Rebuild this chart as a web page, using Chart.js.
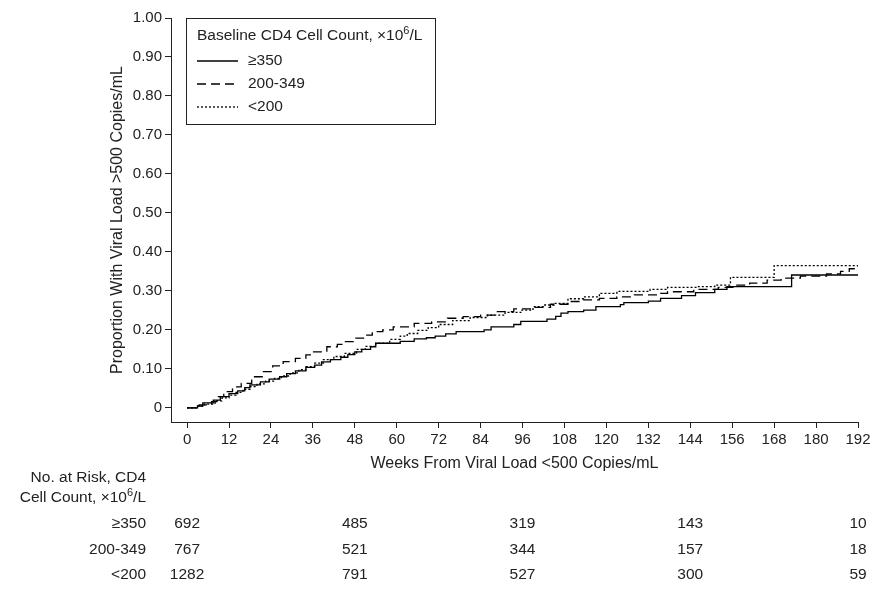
<!DOCTYPE html>
<html>
<head>
<meta charset="utf-8">
<script src="https://cdn.jsdelivr.net/npm/chart.js@4.4.0/dist/chart.umd.min.js"></script>
<style>
  html, body { margin: 0; padding: 0; background: #fff; }
</style>
</head>
<body>
<canvas id="kmChart" width="880" height="592"></canvas>
<script>
// axis ticks
const xTicks = [0, 12, 24, 36, 48, 60, 72, 84, 96, 108, 120, 132, 144, 156, 168, 180, 192];
const yTicks = [0, 0.1, 0.2, 0.3, 0.4, 0.5, 0.6, 0.7, 0.8, 0.9, 1.0];

// groups (baseline CD4 count)
const groupLabels = ['≥350', '200-349', '<200'];

// KM steps: week where the step starts, proportion from then on
const weeksHigh = [0, 3, 4.5, 7.5, 9.5, 12, 14.5, 16.5, 18, 21, 23.5, 26.5, 28.5, 31, 34, 36.5, 38.5, 41, 44, 46, 48, 50, 52.5, 54, 61, 65, 68.5, 71, 74, 77, 85, 87, 93.5, 95.5, 103, 105.5, 107, 109, 113.5, 117, 124, 125, 132, 135.5, 141.5, 145.5, 151, 154.5, 173, 192];
const propHigh  = [0, 0.005, 0.013, 0.02, 0.029, 0.037, 0.044, 0.052, 0.059, 0.067, 0.074, 0.08, 0.088, 0.095, 0.104, 0.11, 0.118, 0.124, 0.13, 0.137, 0.144, 0.15, 0.157, 0.166, 0.171, 0.177, 0.18, 0.184, 0.19, 0.196, 0.2, 0.208, 0.214, 0.222, 0.228, 0.235, 0.243, 0.247, 0.251, 0.26, 0.265, 0.27, 0.274, 0.281, 0.288, 0.296, 0.304, 0.311, 0.341, 0.341];

const weeksMid = [0, 3.5, 7, 8.5, 10.5, 13, 15.5, 18.5, 21.5, 24.5, 27.5, 31, 34, 36, 40, 43, 45, 47.5, 50.5, 53, 56, 59, 65, 70, 74.5, 79, 84, 88.5, 93.5, 99, 104, 109, 113, 118, 123, 128, 135.5, 137.5, 145, 152, 156.5, 161, 166, 170, 175.5, 183, 187, 189.5, 192];
const propMid  = [0, 0.008, 0.016, 0.029, 0.042, 0.054, 0.063, 0.08, 0.093, 0.108, 0.119, 0.127, 0.136, 0.144, 0.157, 0.163, 0.17, 0.179, 0.187, 0.196, 0.2, 0.208, 0.217, 0.221, 0.23, 0.234, 0.238, 0.247, 0.254, 0.258, 0.266, 0.273, 0.277, 0.281, 0.285, 0.29, 0.294, 0.298, 0.304, 0.309, 0.315, 0.32, 0.328, 0.333, 0.338, 0.344, 0.35, 0.357, 0.363];

const weeksLow = [0, 3, 5, 8, 10, 12, 14, 16, 18, 20, 22.5, 25, 27, 29.5, 32, 34, 36.5, 39, 42, 45, 48.5, 51, 54, 58, 61, 63, 66, 69, 72, 76, 81, 86, 91, 95.5, 99, 102, 105, 109, 113.5, 118, 123, 132.5, 137.5, 146, 151, 155.5, 168, 192];
const propLow  = [0, 0.005, 0.01, 0.018, 0.026, 0.033, 0.04, 0.048, 0.055, 0.062, 0.069, 0.076, 0.082, 0.09, 0.098, 0.106, 0.115, 0.124, 0.132, 0.14, 0.15, 0.158, 0.166, 0.176, 0.184, 0.191, 0.199, 0.206, 0.214, 0.224, 0.232, 0.238, 0.245, 0.251, 0.26, 0.264, 0.268, 0.28, 0.285, 0.294, 0.299, 0.304, 0.309, 0.311, 0.315, 0.335, 0.365, 0.365];

// numbers at risk
const riskWeeks = [0, 48, 96, 144, 192];
const riskHigh = [692, 485, 319, 143, 10];
const riskMid = [767, 521, 344, 157, 18];
const riskLow = [1282, 791, 527, 300, 59];

const ink = '#222';
const lineInk = '#000';
const fontFamily = '"Liberation Sans", Arial, Helvetica, sans-serif';
const tickFont = { family: fontFamily, size: 15 };
const titleFont = { family: fontFamily, size: 16 };
const textSize = 15.5;

function toPoints(weeks, props) {
  return weeks.map((w, i) => ({ x: w, y: props[i] }));
}

// draws text with a superscript piece, e.g. ['x10', '6', '/L']
function drawSupText(ctx, parts, x, y, align) {
  const big = textSize + 'px ' + fontFamily;
  const small = '11px ' + fontFamily;
  let widths = parts.map((p, i) => {
    ctx.font = i === 1 ? small : big;
    return ctx.measureText(p).width;
  });
  let total = widths.reduce((a, b) => a + b, 0);
  let cx = align === 'right' ? x - total : x;
  ctx.textAlign = 'left';
  ctx.textBaseline = 'middle';
  parts.forEach((p, i) => {
    ctx.font = i === 1 ? small : big;
    ctx.fillText(p, cx, i === 1 ? y - 5 : y);
    cx += widths[i];
  });
}

const legendBox = {
  id: 'legendBox',
  afterDraw(chart) {
    const { ctx, chartArea } = chart;
    const left = chartArea.left + 15;
    const top = chartArea.top;
    ctx.save();
    ctx.strokeStyle = ink;
    ctx.lineWidth = 1;
    ctx.strokeRect(left + 0.5, top + 0.5, 249, 106);
    ctx.fillStyle = ink;
    drawSupText(ctx, ['Baseline CD4 Cell Count, \u00d710', '6', '/L'], left + 11, top + 18, 'left');
    chart.data.datasets.forEach((ds, i) => {
      const y = top + 43 + i * 23;
      ctx.beginPath();
      ctx.strokeStyle = lineInk;
      ctx.setLineDash(ds.borderDash || []);
      ctx.lineWidth = ds.borderWidth;
      ctx.moveTo(left + 11, y);
      ctx.lineTo(left + 52, y);
      ctx.stroke();
      ctx.setLineDash([]);
      ctx.font = textSize + 'px ' + fontFamily;
      ctx.textAlign = 'left';
      ctx.textBaseline = 'middle';
      ctx.fillText(ds.label, left + 62, y);
    });
    ctx.restore();
  }
};

const riskTable = {
  id: 'riskTable',
  afterDraw(chart) {
    const { ctx, chartArea } = chart;
    const xScale = chart.scales.x;
    const labelRight = chartArea.left - 25;
    const base = chartArea.bottom;
    ctx.save();
    ctx.fillStyle = ink;
    ctx.font = textSize + 'px ' + fontFamily;
    ctx.textAlign = 'right';
    ctx.textBaseline = 'middle';
    ctx.fillText('No. at Risk, CD4', labelRight, base + 56);
    drawSupText(ctx, ['Cell Count, \u00d710', '6', '/L'], labelRight, base + 76, 'right');
    const rows = [riskHigh, riskMid, riskLow];
    rows.forEach((row, r) => {
      const y = base + 102 + r * 25.5;
      ctx.font = textSize + 'px ' + fontFamily;
      ctx.textAlign = 'right';
      ctx.fillText(groupLabels[r], labelRight, y);
      ctx.textAlign = 'center';
      row.forEach((n, i) => {
        ctx.fillText(String(n), xScale.getPixelForValue(riskWeeks[i]), y);
      });
    });
    ctx.restore();
  }
};

const chart = new Chart(document.getElementById('kmChart'), {
  type: 'line',
  data: {
    datasets: [
      { label: groupLabels[0], data: toPoints(weeksHigh, propHigh), borderColor: lineInk, borderWidth: 1.3, borderDash: [], stepped: true },
      { label: groupLabels[1], data: toPoints(weeksMid, propMid), borderColor: lineInk, borderWidth: 1.3, borderDash: [9, 5], stepped: true },
      { label: groupLabels[2], data: toPoints(weeksLow, propLow), borderColor: lineInk, borderWidth: 1.3, borderDash: [2, 2], stepped: true }
    ]
  },
  plugins: [legendBox, riskTable],
  options: {
    responsive: false,
    animation: false,
    layout: { padding: { left: 104, right: 22, top: 18, bottom: 118 } },
    elements: { point: { radius: 0 } },
    plugins: {
      legend: { display: false },
      tooltip: { enabled: false }
    },
    scales: {
      x: {
        type: 'linear',
        min: -4.6,
        max: 192,
        afterBuildTicks: (scale) => { scale.ticks = xTicks.map(v => ({ value: v })); },
        afterFit: (scale) => { scale.height = 52; },
        grid: { drawOnChartArea: false, drawTicks: true, tickLength: 6, color: ink },
        border: { color: ink, width: 1 },
        ticks: { color: ink, font: tickFont, autoSkip: false, maxRotation: 0, padding: 3 },
        title: { display: true, text: 'Weeks From Viral Load <500 Copies/mL', color: ink, font: titleFont, padding: { top: 4, bottom: 1 } }
      },
      y: {
        type: 'linear',
        min: -0.036,
        max: 1,
        afterBuildTicks: (scale) => { scale.ticks = yTicks.map(v => ({ value: v })); },
        afterFit: (scale) => { scale.width = 67; },
        grid: { drawOnChartArea: false, drawTicks: true, tickLength: 6, color: ink },
        border: { color: ink, width: 1 },
        ticks: {
          color: ink, font: tickFont, padding: 3,
          callback: (v) => v === 0 ? '0' : v.toFixed(2)
        },
        title: { display: true, text: 'Proportion With Viral Load >500 Copies/mL', color: ink, font: titleFont, padding: { top: 4, bottom: 4 } }
      }
    }
  }
});
</script>
</body>
</html>
